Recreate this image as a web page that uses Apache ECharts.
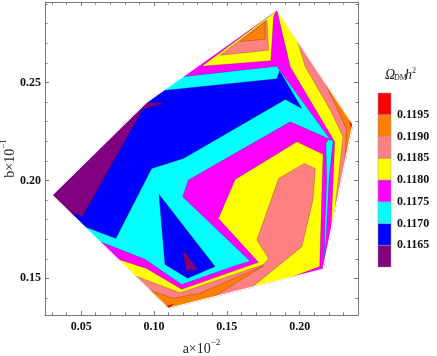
<!DOCTYPE html>
<html>
<head>
<meta charset="utf-8">
<script src="https://cdn.jsdelivr.net/npm/echarts@6/dist/echarts.min.js"></script>
<style>
html, body { margin: 0; padding: 0; background: #fff; }
#chart { width: 437px; height: 356px; }
</style>
</head>
<body>
<div id="chart"></div>
<script>
// contour levels of Omega_DM h^2 and the colour of each band (lowest first)
const levels = [0.1165, 0.1170, 0.1175, 0.1180, 0.1185, 0.1190, 0.1195];
const bandColors = ['#800080', '#0000ff', '#00ffff', '#ff00ff', '#ffff00', '#ff8080', '#ff8000', '#ff0000'];

// axis ticks
const xMajor = [0.05, 0.10, 0.15, 0.20];
const xMinor = [0.03, 0.04, 0.06, 0.07, 0.08, 0.09, 0.11, 0.12, 0.13, 0.14, 0.16, 0.17, 0.18, 0.19, 0.21, 0.22, 0.23];
const yMajor = [0.15, 0.20, 0.25];
const yMinor = [0.14, 0.16, 0.17, 0.18, 0.19, 0.21, 0.22, 0.23, 0.24, 0.26, 0.27, 0.28, 0.29];

// contour regions, points are [a, b]
const hull = [[0.0301, 0.1925], [0.0945, 0.2396], [0.1843, 0.2872], [0.2364, 0.2287], [0.2160, 0.1546], [0.1098, 0.1347]];
const blueValley = [[0.0301, 0.1925], [0.0945, 0.2396], [0.1064, 0.2459], [0.1843, 0.2519], [0.1862, 0.2560], [0.2015, 0.2367], [0.1901, 0.2413], [0.1202, 0.2112], [0.0984, 0.2061], [0.0738, 0.1704], [0.0525, 0.1763]];
const purpleEdge = [[0.0301, 0.1925], [0.0945, 0.2396], [0.1080, 0.2398], [0.0922, 0.2362], [0.0509, 0.1815], [0.0422, 0.1837]];
const magentaSet = [[0.1236, 0.2002], [0.1935, 0.2299], [0.2210, 0.2209], [0.1843, 0.2583], [0.1197, 0.2530], [0.1843, 0.2872], [0.2364, 0.2287], [0.2160, 0.1546], [0.1098, 0.1347], [0.0628, 0.1688], [0.0938, 0.1597], [0.1190, 0.1469], [0.1557, 0.1565], [0.1660, 0.1588], [0.1197, 0.1917]];
const cyanStrip = [[0.2196, 0.2209], [0.2229, 0.2202], [0.2201, 0.2002], [0.2183, 0.1730], [0.2169, 0.1568], [0.2171, 0.1730], [0.2185, 0.2002], [0.2180, 0.2189]];
const blueTongue = [[0.1034, 0.1930], [0.1075, 0.1571], [0.1231, 0.1500], [0.1419, 0.1560]];
const purpleTongue = [[0.1197, 0.1650], [0.1218, 0.1539], [0.1305, 0.1543]];
const yellowLower = [[0.0754, 0.1597], [0.0949, 0.1551], [0.1190, 0.1444], [0.1717, 0.1582], [0.1442, 0.1806], [0.1557, 0.2005], [0.1981, 0.2197], [0.2160, 0.2134], [0.2137, 0.1560], [0.1935, 0.1504], [0.1098, 0.1347]];
const yellowRidge = [[0.1843, 0.2872], [0.2364, 0.2287], [0.2215, 0.1747], [0.2240, 0.2197], [0.1935, 0.2580], [0.1850, 0.2849]];
const yellowTop = [[0.1328, 0.2583], [0.1802, 0.2611], [0.1820, 0.2835], [0.1837, 0.2864]];
const salmonLower = [[0.0869, 0.1513], [0.1179, 0.1427], [0.1752, 0.1571], [0.1786, 0.1602], [0.1706, 0.1696], [0.1855, 0.2010], [0.2031, 0.2087], [0.2107, 0.2061], [0.2091, 0.1900], [0.2015, 0.1662], [0.1671, 0.1454], [0.1098, 0.1347]];
const salmonRidge = [[0.1983, 0.2715], [0.2364, 0.2287], [0.2239, 0.1832], [0.2297, 0.2223], [0.2210, 0.2359], [0.2038, 0.2580]];
const salmonTop = [[0.1454, 0.2639], [0.1786, 0.2665], [0.1775, 0.2821]];
const orangeLower = [[0.0972, 0.1438], [0.1098, 0.1347], [0.1408, 0.1405], [0.1752, 0.1565], [0.1316, 0.1424], [0.1133, 0.1398]];
const orangeRidge = [[0.2171, 0.2504], [0.2364, 0.2287], [0.2311, 0.2095], [0.2320, 0.2265]];
const orangeTop = [[0.1591, 0.2709], [0.1763, 0.2810], [0.1763, 0.2721]];
const redLower = [[0.1080, 0.1358], [0.1135, 0.1368], [0.1098, 0.1347]];
const redRidge = [[0.2341, 0.2311], [0.2364, 0.2287], [0.2356, 0.2257]];

// paint order: [region, band index]
const layers = [
    [hull, 2], [blueValley, 1], [purpleEdge, 0], [magentaSet, 3], [cyanStrip, 2],
    [blueTongue, 1], [purpleTongue, 0],
    [yellowLower, 4], [yellowRidge, 4], [yellowTop, 4],
    [salmonLower, 5], [salmonRidge, 5], [salmonTop, 5],
    [orangeLower, 6], [orangeRidge, 6], [orangeTop, 6],
    [redLower, 7], [redRidge, 7],
    [hull, -1] // clean outer edge, no contour line on the boundary
];

const serif = 'Liberation Serif, DejaVu Serif, serif';
const frameColor = '#777';

const chart = echarts.init(document.getElementById('chart'), null, { renderer: 'canvas' });

// one axis of the frame (major or minor ticks on one side)
const frameAxis = (pos, values, len, labels, line) => ({
    type: 'value',
    gridIndex: 0,
    position: pos,
    min: pos === 'bottom' || pos === 'top' ? 0.0252 : 0.1313,
    max: pos === 'bottom' || pos === 'top' ? 0.24 : 0.2911,
    axisLine: { show: line, lineStyle: { color: frameColor, width: 1 } },
    axisTick: { show: true, inside: true, length: len, customValues: values, lineStyle: { color: frameColor } },
    axisLabel: labels ? {
        show: true, customValues: values, margin: pos === 'bottom' ? 6 : 4,
        fontFamily: serif, fontWeight: 'bold', fontSize: 12, color: '#111',
        formatter: v => v.toFixed(2)
    } : { show: false },
    splitLine: { show: false }
});

const xAxes = [frameAxis('bottom', xMajor, 4, true, true), frameAxis('bottom', xMinor, 2.5, false, false),
    frameAxis('top', xMajor, 4, false, true), frameAxis('top', xMinor, 2.5, false, false)];
const yAxes = [frameAxis('left', yMajor, 4, true, true), frameAxis('left', yMinor, 2.5, false, false),
    frameAxis('right', yMajor, 4, false, true), frameAxis('right', yMinor, 2.5, false, false)];

const nameRich = {
    m: { fontFamily: serif, fontSize: 14, color: '#222', lineHeight: 18, verticalAlign: 'bottom' },
    s: { fontFamily: serif, fontSize: 9, color: '#222', lineHeight: 18, verticalAlign: 'top' }
};
xAxes[0].name = '{m|a×10}{s|−2}';
xAxes[0].nameLocation = 'middle';
xAxes[0].nameGap = 23;
xAxes[0].nameTextStyle = { rich: nameRich };
yAxes[0].name = '{m|b×10}{s|−1}';
yAxes[0].nameLocation = 'middle';
yAxes[0].nameGap = 28;
yAxes[0].nameRotate = 90;
yAxes[0].nameMoveOverlap = false;
yAxes[0].nameTextStyle = { rich: nameRich };

// legend colour bar: one bin per band
const binEdges = [0.1160].concat(levels, [0.1200]);
const legendBins = bandColors.map((c, i) => [binEdges[i], binEdges[i + 1], i]);

xAxes.push({ type: 'value', gridIndex: 1, min: 0, max: 1, show: false });
yAxes.push({
    type: 'value', gridIndex: 1, position: 'right', min: 0.1160, max: 0.1200,
    axisLine: { show: false },
    axisTick: { show: true, length: 5, customValues: levels, lineStyle: { color: '#888' } },
    axisLabel: {
        show: true, customValues: levels, margin: 6,
        fontFamily: serif, fontWeight: 'bold', fontSize: 12, color: '#111',
        formatter: v => v.toFixed(4)
    },
    splitLine: { show: false }
});

const option = {
    animation: false,
    backgroundColor: '#fff',
    grid: [
        { left: 45, top: 2, right: 79, bottom: 41, outerBoundsMode: 'none' },
        { left: 378, top: 93, width: 13, height: 174, outerBoundsMode: 'none' }
    ],
    xAxis: xAxes,
    yAxis: yAxes,
    graphic: [
        { type: 'text', left: 385, top: 68, style: { text: 'Ω', font: 'italic 14px ' + serif, fill: '#222' } },
        { type: 'text', left: 394, top: 74, style: { text: 'DM', font: '8px ' + serif, fill: '#222' } },
        { type: 'text', left: 405, top: 68, style: { text: 'h', font: 'italic 14px ' + serif, fill: '#222' } },
        { type: 'text', left: 412, top: 67, style: { text: '2', font: '8px ' + serif, fill: '#222' } }
    ],
    series: [
        {
            type: 'custom',
            xAxisIndex: 0,
            yAxisIndex: 0,
            data: layers.map((l, i) => [l[0][0][0], l[0][0][1], i]),
            renderItem: (params, api) => {
                const idx = api.value(2);
                const layer = layers[idx];
                const pts = layer[0].map(p => api.coord(p));
                if (layer[1] < 0) {
                    return { type: 'polygon', shape: { points: pts }, style: { fill: null, stroke: '#fff', lineWidth: 1.2 } };
                }
                return {
                    type: 'polygon',
                    shape: { points: pts },
                    style: {
                        fill: bandColors[layer[1]],
                        stroke: idx === 0 ? null : 'rgba(0,0,0,0.35)',
                        lineWidth: 0.6
                    }
                };
            }
        },
        {
            type: 'custom',
            xAxisIndex: 4,
            yAxisIndex: 4,
            data: legendBins,
            renderItem: (params, api) => {
                const p0 = api.coord([0, api.value(1)]);
                const p1 = api.coord([1, api.value(0)]);
                return {
                    type: 'rect',
                    shape: { x: p0[0], y: p0[1], width: p1[0] - p0[0], height: p1[1] - p0[1] },
                    style: { fill: bandColors[api.value(2)], stroke: '#999', lineWidth: 0.5 }
                };
            }
        }
    ]
};

chart.setOption(option);
</script>
</body>
</html>
